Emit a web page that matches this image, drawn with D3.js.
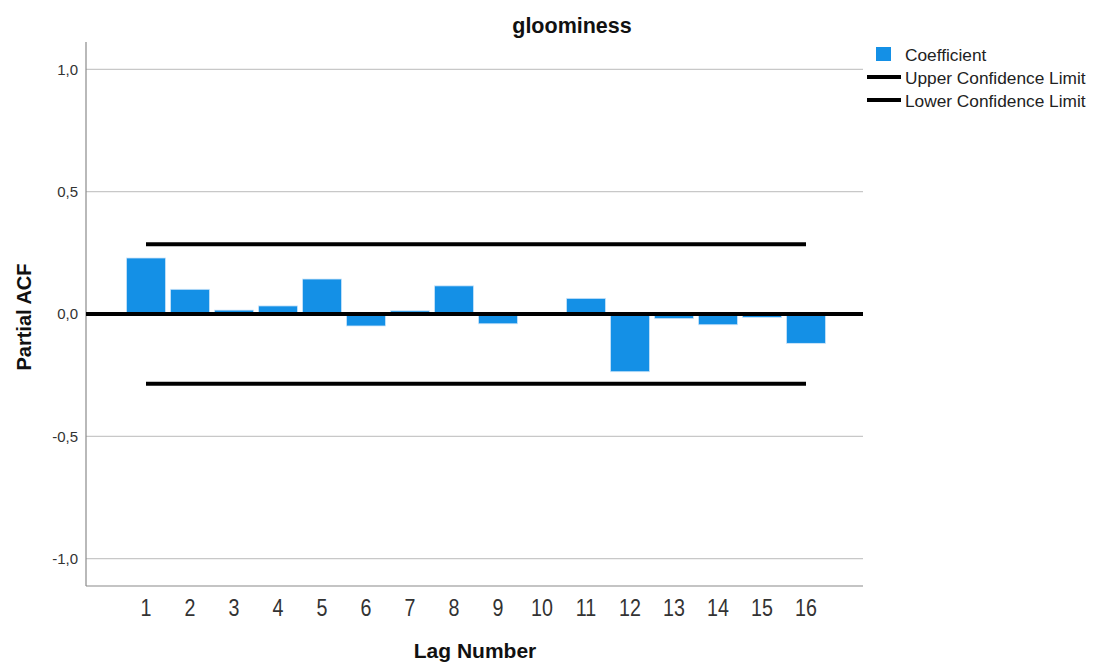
<!DOCTYPE html>
<html><head><meta charset="utf-8">
<script src="https://cdn.jsdelivr.net/npm/d3@7"></script>
<style>body{margin:0;background:#fff;} svg{display:block;font-family:"Liberation Sans",Arial,sans-serif;}</style>
</head><body>
<svg id="chart" width="1094" height="664"></svg>
<script>
const lags = [1,2,3,4,5,6,7,8,9,10,11,12,13,14,15,16];
const coefficient = [0.229,0.101,0.016,0.033,0.143,-0.049,0.013,0.115,-0.040,0.005,0.064,-0.236,-0.019,-0.044,-0.014,-0.120];
const upperLimit = [0.285,0.285,0.285,0.285,0.285,0.285,0.285,0.285,0.285,0.285,0.285,0.285,0.285,0.285,0.285,0.285];
const lowerLimit = [-0.285,-0.285,-0.285,-0.285,-0.285,-0.285,-0.285,-0.285,-0.285,-0.285,-0.285,-0.285,-0.285,-0.285,-0.285,-0.285];
const yTicks = [1.0,0.5,0.0,-0.5,-1.0];
const legendItems = ["Coefficient","Upper Confidence Limit","Lower Confidence Limit"];

const svg = d3.select("#chart");
const plotL = 86, plotR = 863, plotT = 42, plotB = 586;
const y = d3.scaleLinear().domain([-1.112,1.112]).range([plotB,plotT]);
const x = d3.scaleBand().domain(lags).range([124,828]).paddingInner(0.11).paddingOuter(0.055);
const fmt = d => d3.format(".1f")(d).replace(".", ",").replace("−","-");

// gridlines
svg.append("g").selectAll("line").data(yTicks.filter(d=>d!==0)).join("line")
  .attr("x1",plotL).attr("x2",plotR).attr("y1",d=>y(d)).attr("y2",d=>y(d))
  .attr("stroke","#c8c8c8").attr("stroke-width",1.2);

// axes frame
svg.append("line").attr("x1",plotL).attr("x2",plotL).attr("y1",plotT).attr("y2",plotB).attr("stroke","#8a8a8a").attr("stroke-width",1.2);
svg.append("line").attr("x1",plotL).attr("x2",plotR).attr("y1",plotB).attr("y2",plotB).attr("stroke","#8a8a8a").attr("stroke-width",1.2);

// y tick labels
const yAxis = d3.axisLeft(y).tickValues(yTicks).tickSize(0).tickPadding(8).tickFormat(fmt);
const ya = svg.append("g").attr("transform",`translate(${plotL},0)`).call(yAxis);
ya.select(".domain").remove();
ya.selectAll("text").attr("font-size",15).attr("fill","#333").attr("font-family","Liberation Sans, Arial, sans-serif");

// x tick labels
const xAxis = d3.axisBottom(x).tickSize(0);
const xa = svg.append("g").attr("transform",`translate(0,${plotB})`).call(xAxis);
xa.select(".domain").remove();
xa.selectAll("text").attr("font-size",24).attr("fill","#333").attr("font-family","Liberation Sans, Arial, sans-serif")
  .attr("y",30).attr("dy",0).attr("transform","scale(0.82,1)");

// bars
svg.append("g").selectAll("rect").data(lags).join("rect")
  .attr("x",(d)=>x(d))
  .attr("width",x.bandwidth())
  .attr("y",(d,i)=>y(Math.max(0,coefficient[i])))
  .attr("height",(d,i)=>Math.abs(y(coefficient[i])-y(0)))
  .attr("fill","#1490e6").attr("stroke","#cfe6fa").attr("stroke-width",0.8);

// zero line
svg.append("line").attr("x1",plotL).attr("x2",plotR).attr("y1",y(0)).attr("y2",y(0)).attr("stroke","#000").attr("stroke-width",4);

// confidence limits
const line = d3.line().x(d=>x(d[0])+x.bandwidth()/2).y(d=>y(d[1]));
svg.append("path").datum(lags.map((l,i)=>[l,upperLimit[i]])).attr("d",line).attr("fill","none").attr("stroke","#000").attr("stroke-width",4);
svg.append("path").datum(lags.map((l,i)=>[l,lowerLimit[i]])).attr("d",line).attr("fill","none").attr("stroke","#000").attr("stroke-width",4);

// titles
svg.append("text").attr("x",572).attr("y",33).attr("text-anchor","middle").attr("font-size",21.5).attr("font-weight","bold").attr("fill","#111").text("gloominess");
svg.append("text").attr("x",475).attr("y",658).attr("text-anchor","middle").attr("font-size",21).attr("font-weight","bold").attr("fill","#111").text("Lag Number");
svg.append("text").attr("transform",`translate(31,317) rotate(-90)`).attr("text-anchor","middle").attr("font-size",20).attr("font-weight","bold").attr("fill","#111").text("Partial ACF");

// legend
const lg = svg.append("g");
lg.append("rect").attr("x",876).attr("y",47).attr("width",15).attr("height",14).attr("fill","#1490e6");
[77,100].forEach(yy=>lg.append("line").attr("x1",867).attr("x2",901).attr("y1",yy).attr("y2",yy).attr("stroke","#000").attr("stroke-width",4));
legendItems.forEach((t,i)=>lg.append("text").attr("x",905).attr("y",61+i*23).attr("font-size",17.3).attr("fill","#222").text(t));
</script>
</body></html>
